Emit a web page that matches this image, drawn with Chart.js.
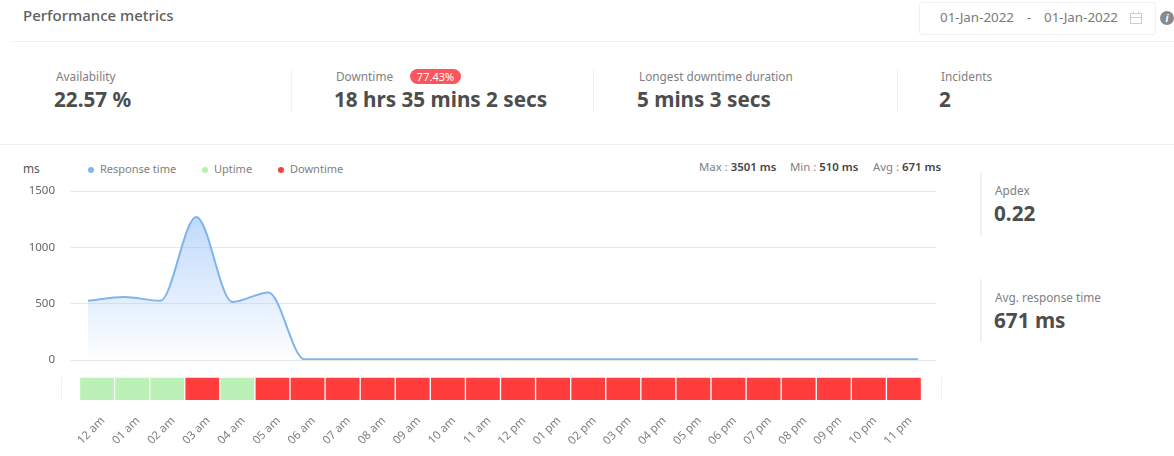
<!DOCTYPE html>
<html>
<head>
<meta charset="utf-8">
<title>Performance metrics</title>
<script src="https://cdn.jsdelivr.net/npm/chart.js@4"></script>
<style>
  html, body { margin: 0; padding: 0; background: #fff; overflow: hidden; }
  body { width: 1174px; height: 456px; position: relative; font-family: "Noto Sans", sans-serif; color: #555; }
  .t { position: absolute; white-space: nowrap; line-height: 1; }
  .label { font-size: 11.8px; color: #808080; }
  .big { font-size: 20.7px; font-weight: 700; color: #4d4d4d; }
  .rule { position: absolute; background: #edf0f4; }
  canvas { position: absolute; }
  .dot { position: absolute; width: 6px; height: 6px; border-radius: 50%; }
  b { font-weight: 600; color: #444; }
</style>
</head>
<body>
<div class="t" style="left:23px;top:8px;font-size:15px;font-weight:500;color:#5f5f5f">Performance metrics</div>
<div style="position:absolute;left:919px;top:2px;width:235px;height:31px;border:1px solid #f0f0f0;border-radius:3px"></div>
<div class="t" style="left:940px;top:11px;font-size:13.4px;color:#7a7a7a">01-Jan-2022</div>
<div class="t" style="left:1027px;top:11px;font-size:13.4px;color:#7a7a7a">-</div>
<div class="t" style="left:1044px;top:11px;font-size:13.4px;color:#7a7a7a">01-Jan-2022</div>
<svg style="position:absolute;left:1129px;top:11px" width="14" height="14"><rect x="1.5" y="2.5" width="11" height="10" fill="none" stroke="#cfcfcf"/><path d="M1 6.5H13M4.5 0.5V3M9.5 0.5V3" stroke="#cfcfcf"/></svg>
<div style="position:absolute;left:1160px;top:11px;width:14px;height:14px;border-radius:50%;background:#8a8a8a;color:#fff;font:italic 700 10px/14px 'Noto Sans';text-align:center">i</div>
<div class="rule" style="left:12px;top:41px;width:1162px;height:1px"></div>

<div class="t label" style="left:56px;top:71px">Availability</div>
<div class="t big" style="left:54px;top:89px">22.57 %</div>
<div class="rule" style="left:291px;top:69px;width:1px;height:43px"></div>
<div class="t label" style="left:336px;top:71px">Downtime</div>
<div style="position:absolute;left:410px;top:69px;width:51px;height:15px;border-radius:8px;background:#fb565d;color:#fff;font-size:11px;line-height:15px;text-align:center">77.43%</div>
<div class="t big" style="left:334px;top:89px">18 hrs 35 mins 2 secs</div>
<div class="rule" style="left:593px;top:69px;width:1px;height:43px"></div>
<div class="t label" style="left:639px;top:71px">Longest downtime duration</div>
<div class="t big" style="left:637px;top:89px">5 mins 3 secs</div>
<div class="rule" style="left:897px;top:69px;width:1px;height:43px"></div>
<div class="t label" style="left:941px;top:71px">Incidents</div>
<div class="t big" style="left:939px;top:89px">2</div>
<div class="rule" style="left:0;top:144px;width:1174px;height:1px"></div>

<div class="t label" style="left:23px;top:163px;color:#555">ms</div>
<div class="dot" style="left:88px;top:167px;background:#80b5f7"></div>
<div class="t label" style="left:100px;top:163px;font-size:11px">Response time</div>
<div class="dot" style="left:202px;top:167px;background:#b7efb3"></div>
<div class="t label" style="left:214px;top:163px;font-size:11px">Uptime</div>
<div class="dot" style="left:278px;top:167px;background:#ff3c3c"></div>
<div class="t label" style="left:290px;top:163px;font-size:11px">Downtime</div>
<div class="t label" style="left:699px;top:161px;font-size:11.4px">Max : <b>3501 ms</b></div>
<div class="t label" style="left:790px;top:161px;font-size:11.4px">Min : <b>510 ms</b></div>
<div class="t label" style="left:873px;top:161px;font-size:11.4px">Avg : <b>671 ms</b></div>

<canvas id="response-chart" style="left:0;top:180px"></canvas>
<canvas id="status-chart" style="left:0;top:370px"></canvas>
<div class="rule" style="left:61px;top:377px;width:1px;height:23px"></div>
<div class="rule" style="left:941px;top:377px;width:1px;height:23px"></div>

<div class="rule" style="left:980px;top:173px;width:2px;height:63px"></div>
<div class="t label" style="left:995px;top:185px">Apdex</div>
<div class="t big" style="left:994px;top:203px">0.22</div>
<div class="rule" style="left:980px;top:279px;width:2px;height:63px"></div>
<div class="t label" style="left:995px;top:292px">Avg. response time</div>
<div class="t big" style="left:994px;top:310px">671 ms</div>

<script>
const hours = ['12 am','01 am','02 am','03 am','04 am','05 am','06 am','07 am','08 am','09 am','10 am','11 am',
               '12 pm','01 pm','02 pm','03 pm','04 pm','05 pm','06 pm','07 pm','08 pm','09 pm','10 pm','11 pm'];
const responseTime = [525,560,525,1270,515,600,6,6,6,6,6,6,6,6,6,6,6,6,6,6,6,6,6,6];
// 1 = up, 0 = down
const hourStatus = [1,1,1,0,1,0,0,0,0,0,0,0,0,0,0,0,0,0,0,0,0,0,0,0];
const yTicks = [0,500,1000,1500];

const greenBar = '#bbf1b7';
const redBar = '#ff3d3d';

const respCanvas = document.getElementById('response-chart');
respCanvas.width = 960;
respCanvas.height = 190;
const respCtx = respCanvas.getContext('2d');
var respGradient = respCtx.createLinearGradient(0, 36, 0, 178);
respGradient.addColorStop(0, 'rgba(128,181,247,0.5)');
respGradient.addColorStop(1, 'rgba(128,181,247,0.02)');

new Chart(respCtx, {
    type: 'line',
    data: {
        labels: hours,
        datasets: [{
            label: 'Response time',
            data: responseTime,
            borderColor: '#7fb4ec',
            borderWidth: 2,
            backgroundColor: respGradient,
            fill: 'origin',
            pointRadius: 0,
            cubicInterpolationMode: 'monotone',
        }]
    },
    options: {
        responsive: false,
        animation: false,
        layout: { padding: { top: 11, right: 24, bottom: 10 } },
        plugins: { legend: { display: false }, tooltip: { enabled: false } },
        scales: {
            x: { display: false, offset: true },
            y: {
                min: 0,
                max: 1500,
                afterFit: (s) => { s.width = 70; s.paddingTop = 0; s.paddingBottom = 0; },
                afterBuildTicks: (s) => { s.ticks = yTicks.map(v => ({ value: v })); },
                border: { display: false },
                grid: { color: '#e8e8e8', drawTicks: false },
                ticks: {
                    padding: 15,
                    color: '#666',
                    font: { family: 'Noto Sans', size: 11.5 },
                    callback: (val) => String(val),
                },
            }
        }
    }
});

const statusCanvas = document.getElementById('status-chart');
statusCanvas.width = 960;
statusCanvas.height = 86;

new Chart(statusCanvas.getContext('2d'), {
    type: 'bar',
    data: {
        labels: hours,
        datasets: [{
            label: 'Status',
            data: hourStatus.map(() => 1),
            backgroundColor: hourStatus.map(s => s ? greenBar : redBar),
            borderColor: 'rgba(255,255,255,0.6)',
            borderWidth: 1,
            barPercentage: 1,
            categoryPercentage: 1,
        }]
    },
    options: {
        responsive: false,
        animation: false,
        layout: { padding: { top: 7, left: 79.5, right: 38.5 } },
        plugins: { legend: { display: false }, tooltip: { enabled: false } },
        scales: {
            x: {
                afterFit: (s) => { s.height = 56; },
                border: { display: false },
                grid: { display: false, drawTicks: false },
                ticks: {
                    autoSkip: false,
                    minRotation: 45,
                    maxRotation: 45,
                    padding: 14,
                    labelOffset: 6,
                    color: '#808080',
                    font: { family: 'Noto Sans', size: 11.5 },
                }
            },
            y: { display: false, min: 0, max: 1 }
        }
    }
});
</script>
</body>
</html>
